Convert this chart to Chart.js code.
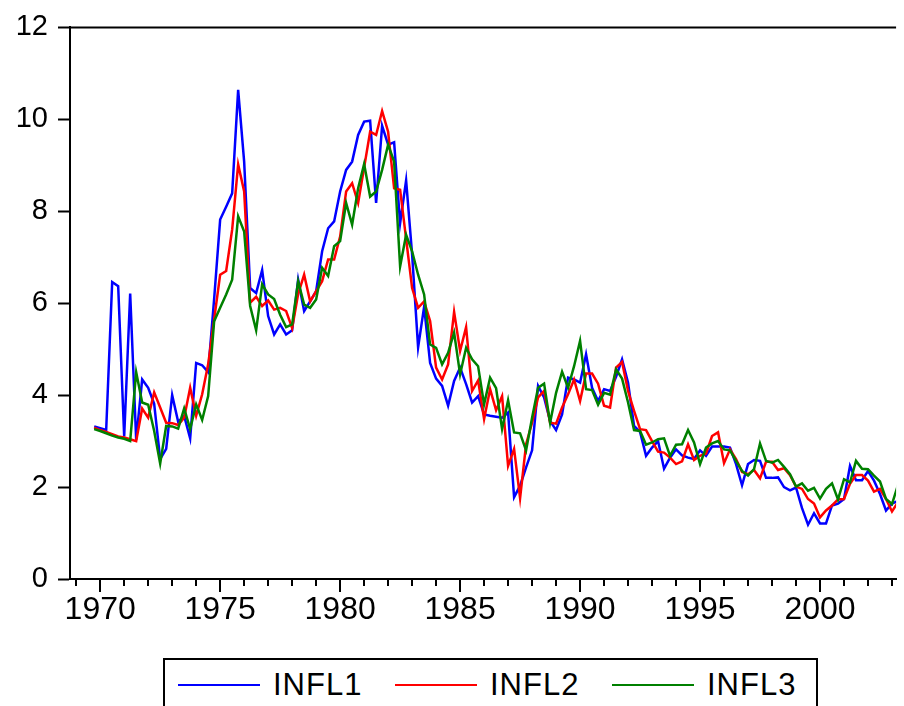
<!DOCTYPE html>
<html>
<head>
<meta charset="utf-8">
<script src="https://cdn.jsdelivr.net/npm/chart.js@4.4.0/dist/chart.umd.min.js"></script>
<style>
  html, body { margin: 0; padding: 0; background: #fff; overflow: hidden; }
  #wrap { position: relative; width: 904px; height: 706px; }
  #legend {
    position: absolute; left: 163px; top: 658px; width: 655px; height: 70px;
    box-sizing: border-box; border: 2px solid #000; padding-left: 13px;
    display: flex; align-items: flex-start; background: #fff;
  }
  .legend-item { display: flex; align-items: center; height: 50px; margin-right: 32px; }
  .swatch { display: inline-block; width: 82px; height: 2px; margin-right: 13px; }
  .label { display: inline-block; width: 90px; font: 31px "Liberation Sans", Arial, sans-serif; color: #000; letter-spacing: 1px; }
</style>
</head>
<body>
<div id="wrap">
  <canvas id="myChart" width="904" height="706"></canvas>
  <div id="legend"></div>
</div>
<script>
// quarterly series, 1969Q4 .. 2003Q2
const firstYear = 1969, firstQuarter = 4;

const infl1 = [
  3.32, 3.28, 3.24, 6.46, 6.37, 3.10, 6.21, 3.03, 4.34, 4.16,
  3.81, 2.61, 2.83, 4.00, 3.42, 3.55, 3.06, 4.70, 4.65, 4.50,
  6.10, 7.82, 8.10, 8.39, 10.64, 9.08, 6.33, 6.22, 6.72, 5.72,
  5.32, 5.54, 5.32, 5.41, 6.51, 5.83, 6.04, 6.26, 7.13, 7.63,
  7.78, 8.43, 8.90, 9.08, 9.66, 9.95, 9.97, 8.18, 9.86, 9.45,
  9.50, 7.74, 8.67, 7.06, 5.04, 5.92, 4.70, 4.36, 4.20, 3.77,
  4.31, 4.60, 4.24, 3.84, 3.98, 3.58, 3.55, 3.53, 3.51, 3.62,
  1.78, 2.03, 2.43, 2.80, 4.20, 3.95, 3.44, 3.24, 3.58, 4.38,
  4.34, 4.27, 4.89, 4.16, 3.87, 4.13, 4.09, 4.40, 4.78, 4.27,
  3.33, 3.20, 2.68, 2.86, 3.00, 2.40, 2.64, 2.82, 2.69, 2.64,
  2.61, 2.80, 2.68, 2.88, 2.88, 2.88, 2.86, 2.50, 2.04, 2.50,
  2.59, 2.57, 2.20, 2.20, 2.21, 2.00, 1.93, 1.99, 1.54, 1.18,
  1.43, 1.21, 1.21, 1.60, 1.64, 1.74, 2.46, 2.15, 2.15, 2.35,
  2.14, 1.85, 1.49, 1.64, 1.70
];

const infl2 = [
  3.29, 3.24, 3.20, 3.15, 3.10, 3.08, 3.04, 3.00, 3.71, 3.51,
  4.06, 3.73, 3.40, 3.39, 3.35, 3.51, 4.16, 3.55, 4.02, 4.67,
  5.65, 6.62, 6.70, 7.60, 9.02, 8.43, 6.01, 6.14, 5.94, 6.06,
  5.86, 5.90, 5.83, 5.46, 6.20, 6.62, 6.04, 6.26, 6.48, 6.95,
  6.95, 7.45, 8.43, 8.61, 8.18, 8.95, 9.73, 9.66, 10.18, 9.73,
  8.50, 8.47, 7.40, 6.33, 5.90, 6.04, 5.61, 4.60, 4.34, 4.67,
  5.81, 4.96, 5.48, 4.09, 4.32, 3.48, 4.13, 3.67, 3.98, 2.46,
  2.83, 1.76, 2.93, 3.40, 3.95, 4.09, 3.40, 3.38, 3.73, 4.02,
  4.34, 3.87, 4.47, 4.47, 4.25, 3.77, 3.73, 4.60, 4.72, 4.09,
  3.66, 3.26, 3.24, 3.00, 2.77, 2.75, 2.64, 2.50, 2.56, 2.93,
  2.59, 2.68, 2.73, 3.11, 3.19, 2.52, 2.82, 2.61, 2.33, 2.28,
  2.37, 2.19, 2.55, 2.55, 2.37, 2.41, 2.26, 2.01, 1.96, 1.74,
  1.64, 1.34, 1.49, 1.60, 1.73, 1.74, 2.07, 2.26, 2.26, 2.14,
  1.90, 1.96, 1.74, 1.47, 1.67
];

const infl3 = [
  3.26, 3.22, 3.17, 3.12, 3.08, 3.05, 3.00, 4.50, 3.84, 3.79,
  3.22, 2.51, 3.33, 3.32, 3.27, 3.71, 3.26, 3.80, 3.46, 3.98,
  5.61, 5.90, 6.19, 6.51, 7.89, 7.56, 5.94, 5.41, 6.41, 6.19,
  6.09, 5.75, 5.48, 5.54, 6.48, 5.97, 5.90, 6.08, 6.77, 6.59,
  7.24, 7.35, 8.18, 7.71, 8.50, 9.03, 8.32, 8.43, 8.90, 9.45,
  9.08, 6.80, 7.49, 7.13, 6.62, 6.19, 5.10, 5.03, 4.67, 4.92,
  5.36, 4.45, 5.03, 4.78, 4.63, 3.80, 4.38, 4.15, 3.26, 3.89,
  3.19, 3.17, 2.80, 3.51, 4.16, 4.25, 3.40, 4.05, 4.51, 4.16,
  4.63, 5.18, 4.13, 4.11, 3.79, 4.05, 4.01, 4.56, 4.36, 3.84,
  3.24, 3.22, 2.92, 2.97, 3.04, 3.06, 2.68, 2.92, 2.93, 3.24,
  2.97, 2.50, 2.86, 2.95, 3.00, 2.82, 2.80, 2.57, 2.35, 2.25,
  2.39, 2.95, 2.57, 2.53, 2.59, 2.44, 2.28, 2.01, 2.08, 1.92,
  1.98, 1.75, 1.96, 2.08, 1.73, 2.17, 2.10, 2.57, 2.40, 2.39,
  2.25, 2.12, 1.74, 1.63, 2.05
];

const yTicks = [0, 2, 4, 6, 8, 10, 12];

// dates as decimal years, one per quarter
const dates = [];
for (let i = 0; i < infl1.length; i++) {
  dates.push(firstYear + (firstQuarter - 1 + i) / 4);
}

function points(values) {
  return values.map(function (v, i) { return { x: dates[i], y: v }; });
}

const axisFrame = {
  id: 'axisFrame',
  afterDraw(chart) {
    const ctx = chart.ctx;
    const area = chart.chartArea;
    const x = chart.scales.x;
    ctx.save();
    ctx.strokeStyle = '#000';
    ctx.lineWidth = 2;
    ctx.beginPath();
    ctx.moveTo(area.left - 1, area.top);
    ctx.lineTo(area.right, area.top);
    x.ticks.forEach(function (t) {
      const px = Math.round(x.getPixelForValue(t.value));
      const len = t.value % 5 === 0 ? 13 : 7;
      ctx.moveTo(px, area.bottom);
      ctx.lineTo(px, area.bottom + len);
    });
    ctx.stroke();
    ctx.restore();
  }
};

Chart.defaults.font.family = '"Liberation Sans", Arial, sans-serif';
Chart.defaults.color = '#000';

const ctx = document.getElementById('myChart').getContext('2d');
const chart = new Chart(ctx, {
  type: 'line',
  data: {
    datasets: [
      { label: 'INFL1', data: points(infl1), borderColor: '#0000ff', order: 3 },
      { label: 'INFL2', data: points(infl2), borderColor: '#ff0000', order: 2 },
      { label: 'INFL3', data: points(infl3), borderColor: '#008000', order: 1 }
    ]
  },
  options: {
    responsive: false,
    animation: false,
    devicePixelRatio: 1,
    layout: { padding: { top: 25, right: 0, left: 0, bottom: 0 } },
    elements: {
      line: { borderWidth: 2.5, tension: 0, fill: false },
      point: { radius: 0, hoverRadius: 0 }
    },
    plugins: { legend: { display: false }, tooltip: { enabled: false } },
    scales: {
      x: {
        type: 'linear',
        min: 1968.742,
        max: 2003.17,
        afterFit(scale) { scale.height = 127; },
        border: { display: true, color: '#000', width: 2 },
        grid: { display: true, drawOnChartArea: false, drawTicks: false },
        ticks: {
          stepSize: 1,
          includeBounds: false,
          autoSkip: false,
          maxRotation: 0,
          padding: 12,
          font: { size: 32 },
          callback: function (v) { return v % 5 === 0 ? String(v) : ''; }
        }
      },
      y: {
        min: 0,
        max: 12,
        afterFit(scale) { scale.width = 70; },
        afterBuildTicks(scale) { scale.ticks = yTicks.map(function (v) { return { value: v }; }); },
        border: { display: true, color: '#000', width: 2 },
        grid: { drawOnChartArea: false, drawTicks: true, tickLength: 12, tickColor: '#000', tickWidth: 2 },
        ticks: { padding: 10, font: { size: 29 } }
      }
    }
  },
  plugins: [axisFrame]
});

// legend box under the plot, built from the datasets
const legendBox = document.getElementById('legend');
chart.data.datasets.forEach(function (ds) {
  const item = document.createElement('div');
  item.className = 'legend-item';
  item.innerHTML = `<span class="swatch" style="background:${ds.borderColor}"></span><span class="label">${ds.label}</span>`;
  legendBox.appendChild(item);
});
</script>
</body>
</html>
